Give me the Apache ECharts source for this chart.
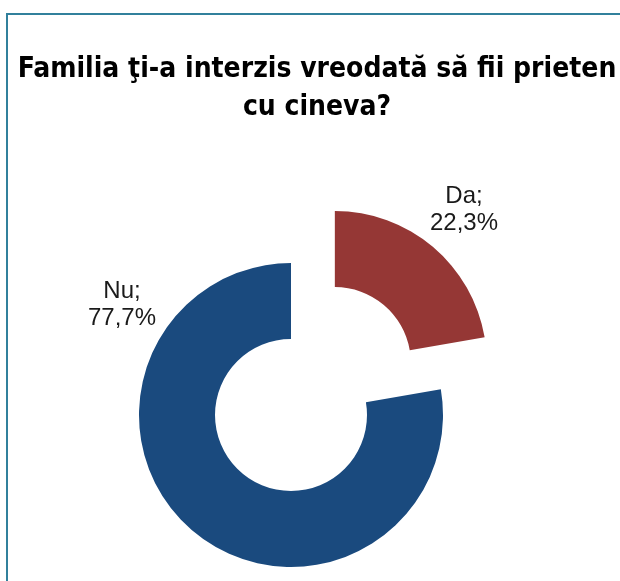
<!DOCTYPE html>
<html>
<head>
<meta charset="utf-8">
<script src="https://cdn.jsdelivr.net/npm/echarts@6/dist/echarts.min.js"></script>
<style>
  html, body {margin: 0; padding: 0; background: #fff;}
  #chart {width: 620px; height: 581px;}
</style>
</head>
<body>
<div id="chart"></div>
<script>
// values
var categories = ['Da', 'Nu'];
var values = [22.3, 77.7];
var colors = ['#953735', '#1a4a7e'];
var titleText = 'Familia ţi-a interzis vreodată să fii prieten\ncu cineva?';
// where the excel labels sit (label centre, px)
var labelSpots = [[464, 210], [122, 305]];

document.addEventListener('DOMContentLoaded', function () {
  var chart = echarts.init(document.getElementById('chart'));

  var pieData = categories.map(function (name, i) {
    return {name: name, value: values[i], selected: i == 0, itemStyle: {color: colors[i]}};
  });
  // selected slices keep their own label spot, so labels go on a see-through copy
  var labelData = categories.map(function (name, i) {
    return {name: name, value: values[i]};
  });

  var option = {
    animation: false,
    title: {
      text: titleText,
      left: 312,
      top: 46,
      textAlign: 'center',
      textStyle: {
        fontFamily: '"Liberation Sans Narrow", "Arial Narrow", "DejaVu Sans Condensed", sans-serif',
        fontSize: 28,
        fontWeight: 'bold',
        color: '#000',
        lineHeight: 38
      }
    },
    graphic: [{
      type: 'rect',
      shape: {x: 7, y: 14, width: 700, height: 700},
      style: {fill: 'none', stroke: '#31809c', lineWidth: 2},
      silent: true
    }],
    series: [{
      type: 'pie',
      center: [291, 415],
      radius: [76, 152],
      startAngle: 90,
      clockwise: true,
      selectedMode: 'single',
      selectedOffset: 68,
      label: {show: false},
      labelLine: {show: false},
      emphasis: {disabled: true},
      data: pieData
    }, {
      type: 'pie',
      center: [291, 415],
      radius: [76, 152],
      startAngle: 90,
      clockwise: true,
      silent: true,
      selectedMode: false,
      avoidLabelOverlap: false,
      itemStyle: {color: 'rgba(0,0,0,0)'},
      label: {
        show: true,
        position: 'outside',
        formatter: function (p) {
          return p.name + ';\n' + String(p.value).replace('.', ',') + '%';
        },
        fontFamily: '"Liberation Sans", Arial, sans-serif',
        fontSize: 24,
        lineHeight: 27,
        color: '#1a1a1a'
      },
      labelLine: {show: false},
      labelLayout: function (p) {
        var s = labelSpots[p.dataIndex];
        return {x: s[0], y: s[1], align: 'center', verticalAlign: 'middle'};
      },
      emphasis: {disabled: true},
      data: labelData
    }]
  };

  chart.setOption(option);
});
</script>
</body>
</html>
